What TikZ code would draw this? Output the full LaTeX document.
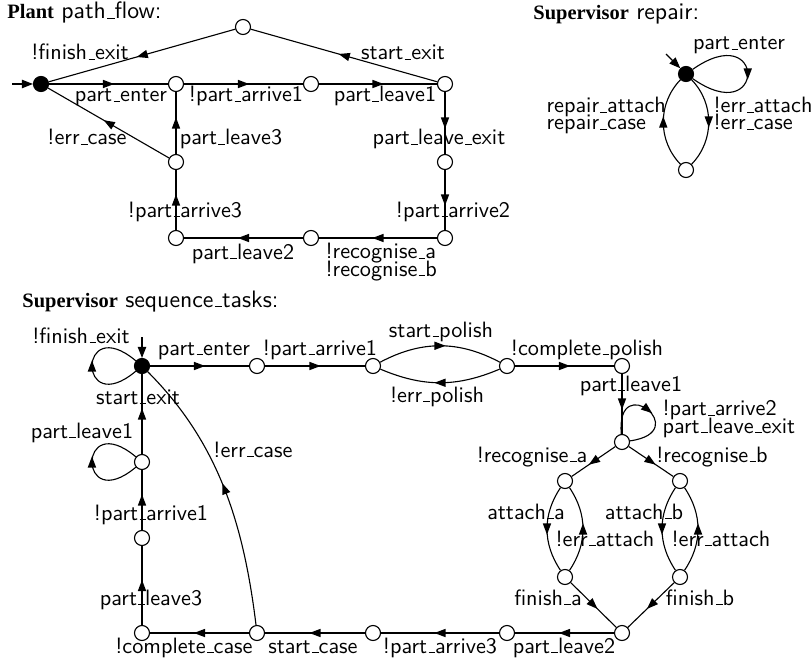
\documentclass[tikz,border=0pt]{standalone}
\usepackage{fontspec}
\newfontfamily\ttlfont{Liberation Serif}
\usetikzlibrary{arrows.meta,decorations.markings}
\newcommand{\us}{\kern.06em\vbox{\hrule width.3em}}
\newcommand{\ttlb}[1]{{\ttlfont\bfseries\fontsize{9.2pt}{11pt}\selectfont #1}}
\newcommand{\ttls}[1]{{\sffamily\fontsize{10.7pt}{12pt}\selectfont #1}}
\begin{document}
\begin{tikzpicture}[x=0.45pt,y=-0.45pt,
  st/.style={circle,draw,line width=0.5pt,fill=white,minimum size=6.75pt,inner sep=0pt},
  ini/.style={circle,draw,fill=black,line width=0.5pt,minimum size=6.75pt,inner sep=0pt},
  e/.style={draw,line width=0.5pt,postaction={decorate},
    decoration={markings,mark=at position 0.5 with {\fill (2.5pt,0pt) -- (-2.5pt,1.9pt) -- (-2.5pt,-1.9pt) -- cycle;}}},
  lbl/.style={font=\sffamily,inner sep=0pt,anchor=base},
  lbll/.style={font=\sffamily,inner sep=0pt,anchor=base west,align=left},
  ttl/.style={inner sep=0pt,anchor=base west},
  initarr/.style={draw,line width=0.5pt,-{Triangle[length=5pt,width=3.8pt]}},
]
\useasboundingbox (0,0) rectangle (811,664);

% ---------------- Plant path_flow ----------------
\node[ttl] (t1) at (7,19) {\ttlb{Plant} \ttls{path\us flow:}};
\node[ini] (p0) at (41,84) {};
\node[st] (p1) at (176,84) {};
\node[st] (p2) at (311,84) {};
\node[st] (p3) at (445,84) {};
\node[st] (pt) at (243,27) {};
\node[st] (p4) at (445,162) {};
\node[st] (p5) at (445,238) {};
\node[st] (p6) at (311,238) {};
\node[st] (p7) at (176,238) {};
\node[st] (p8) at (176,162) {};
\coordinate (pin) at (12,84);

\draw[initarr] (pin) -- (p0);
\draw[e] (p0) -- (p1) node[lbl] (lp1) at (121,102) {part\us enter};
\draw[e] (p1) -- (p2) node[lbl] (lp2) at (246,102) {!part\us arrive1};
\draw[e] (p2) -- (p3) node[lbl] (lp3) at (385,102) {part\us leave1};
\draw[e] (p3) -- (pt) node[lbl] (lp4) at (403,60) {start\us exit};
\draw[e] (pt) -- (p0) node[lbl] (lp5) at (80,60) {!finish\us exit};
\draw[e] (p3) -- (p4) node[lbl] (lp6) at (439,145) {part\us leave\us exit};
\draw[e] (p4) -- (p5) node[lbl] (lp7) at (453,217) {!part\us arrive2};
\draw[e] (p5) -- (p6) node[lbll] (lp8) at (325,276) {!recognise\us a\\[-4.3pt]!recognise\us b};
\draw[e] (p6) -- (p7) node[lbl] (lp9) at (243,259) {part\us leave2};
\draw[e] (p7) -- (p8) node[lbl] (lp10) at (185,217) {!part\us arrive3};
\draw[e] (p8) -- (p1) node[lbl] (lp11) at (231,145) {part\us leave3};
\draw[e] (p8) -- (p0) node[lbl] (lp12) at (87,145) {!err\us case};

% ---------------- Supervisor repair ----------------
\node[ttl] (t2) at (533,20) {\ttlb{Supervisor} \ttls{repair:}};
\node[ini] (r0) at (686,74) {};
\node[st] (r1) at (686,170) {};
\coordinate (rin) at (666,54);
\draw[initarr] (rin) -- (r0);
\draw[e] (r0) .. controls +(35:44pt) and +(-35:44pt) .. (r0) node[lbl] (lr1) at (739,50) {part\us enter};
\draw[e] (r0) to[bend left=44] (r1) node[lbll] (lr2) at (713,130) {!err\us attach\\[-4.3pt]!err\us case};
\draw[e] (r1) to[bend left=44] (r0) node[lbll] (lr3) at (546,130) {repair\us attach\\[-4.3pt]repair\us case};

% ---------------- Supervisor sequence_tasks ----------------
\node[ttl] (t3) at (22,307) {\ttlb{Supervisor} \ttls{sequence\us tasks:}};
\node[ini] (s0) at (142,366) {};
\node[st] (s1) at (257,366) {};
\node[st] (s2) at (373,366) {};
\node[st] (s3) at (507,366) {};
\node[st] (s4) at (622,366) {};
\node[st] (s5) at (622,442) {};
\node[st] (s6) at (565,481) {};
\node[st] (s7) at (680,481) {};
\node[st] (s8) at (565,577) {};
\node[st] (s9) at (680,577) {};
\node[st] (s10) at (622,633) {};
\node[st] (s11) at (507,633) {};
\node[st] (s12) at (373,633) {};
\node[st] (s13) at (257,633) {};
\node[st] (s14) at (142,633) {};
\node[st] (s15) at (142,538) {};
\node[st] (s16) at (142,462) {};
\coordinate (sin) at (142,337);

\draw[initarr] (sin) -- (s0);
\draw[e] (s0) .. controls +(220:38pt) and +(140:38pt) .. (s0) node[lbl] (ls1) at (81,343) {!finish\us exit};
\draw[e] (s0) -- (s1) node[lbl] (ls2) at (204,355) {part\us enter};
\draw[e] (s1) -- (s2) node[lbl] (ls3) at (320,355) {!part\us arrive1};
\draw[e] (s2) to[bend left=28] (s3) node[lbl] (ls4) at (441,337) {start\us polish};
\draw[e] (s3) to[bend left=23] (s2) node[lbl] (ls5) at (437,402) {!err\us polish};
\draw[e] (s3) -- (s4) node[lbl] (ls6) at (587,355) {!complete\us polish};
\draw[e] (s4) -- (s5) node[lbl] (ls7) at (631,391) {part\us leave1};
\draw[e] (s5) .. controls +(95:33pt) and +(8:33pt) .. (s5) node[lbll] (ls8) at (662,433) {!part\us arrive2\\[-4.3pt]part\us leave\us exit};
\draw[e] (s5) -- (s6) node[lbl] (ls9) at (532,462) {!recognise\us a};
\draw[e] (s5) -- (s7) node[lbl] (ls10) at (712,462) {!recognise\us b};
\draw[e] (s6) to[bend right=34] (s8) node[lbl] (ls11) at (526,519) {attach\us a};
\draw[e] (s8) to[bend right=34] (s6) node[lbl] (ls12) at (605,546) {!err\us attach};
\draw[e] (s7) to[bend right=34] (s9) node[lbl] (ls13) at (644,519) {attach\us b};
\draw[e] (s9) to[bend right=34] (s7) node[lbl] (ls14) at (721,546) {!err\us attach};
\draw[e] (s8) -- (s10) node[lbl] (ls15) at (548,605) {finish\us a};
\draw[e] (s9) -- (s10) node[lbl] (ls16) at (700,605) {finish\us b};
\draw[e] (s10) -- (s11) node[lbl] (ls17) at (564,653) {part\us leave2};
\draw[e] (s11) -- (s12) node[lbl] (ls18) at (440,653) {!part\us arrive3};
\draw[e] (s12) -- (s13) node[lbl] (ls19) at (313,653) {start\us case};
\draw[e] (s13) -- (s14) node[lbl] (ls20) at (184,653) {!complete\us case};
\draw[e] (s14) -- (s15) node[lbl] (ls21) at (151,605) {part\us leave3};
\draw[e] (s15) -- (s16) node[lbl] (ls22) at (151,520) {!part\us arrive1};
\draw[e] (s16) .. controls +(220:38pt) and +(140:38pt) .. (s16) node[lbl] (ls23) at (82,438) {part\us leave1};
\draw[e] (s16) -- (s0) node[lbl] (ls24) at (138,404) {start\us exit};
\draw[e] (s13) .. controls +(97:49pt) and +(-45:49pt) .. (s0) node[lbl] (ls25) at (253,457) {!err\us case};
\end{tikzpicture}
\end{document}
